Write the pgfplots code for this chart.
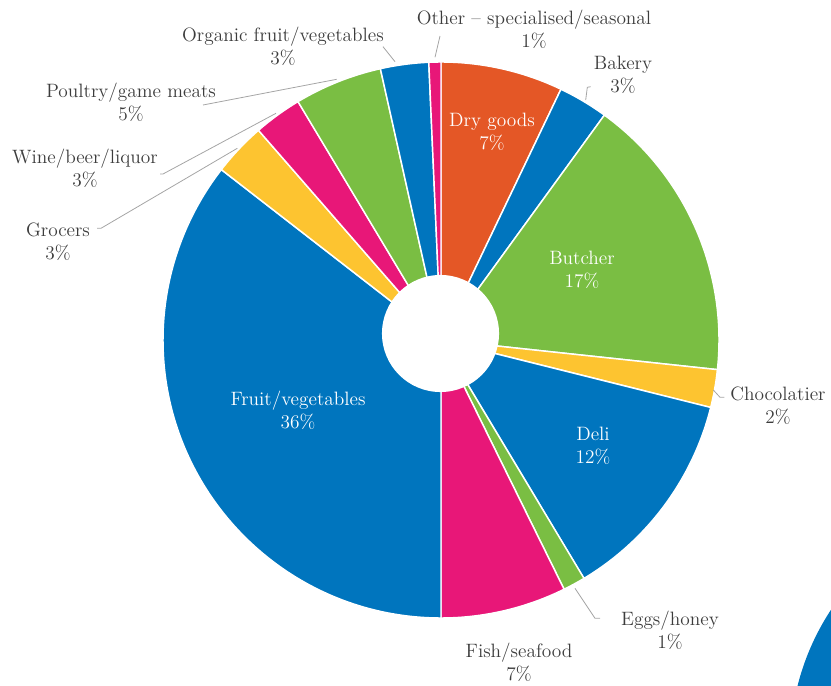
\documentclass[border=0pt]{standalone}
\usepackage{pgfplots}
\pgfplotsset{compat=1.18}
\usepackage{pgfplotstable}
\definecolor{cOrange}{RGB}{228,87,38}
\definecolor{cBlue}{RGB}{0,117,190}
\definecolor{cGreen}{RGB}{122,190,67}
\definecolor{cYellow}{RGB}{253,196,48}
\definecolor{cPink}{RGB}{232,23,120}
\definecolor{txt}{RGB}{60,60,60}
\definecolor{lead}{RGB}{165,165,165}

% share of each category (clockwise from 12 o'clock)
\pgfplotstableread[col sep=comma]{
value,col
7.1,cOrange
2.9,cBlue
16.7,cGreen
2.2,cYellow
12.5,cBlue
1.3,cGreen
7.3,cPink
35.5,cBlue
3.1,cYellow
2.8,cPink
5.1,cGreen
2.8,cBlue
0.7,cPink
}\slices

\tikzset{
  lab/.style={font=\fontsize{14.5}{17.25}\selectfont, text=txt, align=center, inner sep=0pt},
  wlab/.style={lab, text=white},
  ld/.style={draw=lead, line width=0.6pt},
}

\begin{document}
\begin{tikzpicture}
\begin{axis}[x=0.75pt,y=0.75pt,xmin=0,xmax=831,ymin=0,ymax=685,
  hide axis, clip=false]
% decorative circle bottom right
\fill[cBlue] (axis cs:1040,-62) circle[radius=187.5pt];
\def\cstart{0}
\pgfplotsforeachungrouped \i in {0,...,12}{
  \pgfplotstablegetelem{\i}{value}\of\slices \let\v\pgfplotsretval
  \pgfplotstablegetelem{\i}{col}\of\slices \let\cc\pgfplotsretval
  \pgfmathsetmacro\cend{\cstart+\v}
  \pgfmathsetmacro\aa{90-3.6*\cstart}
  \pgfmathsetmacro\bb{90-3.6*\cend}
  \edef\temp{\noexpand\filldraw[fill=\cc,draw=white,line width=1.1pt,line join=round]
    (axis cs:441,345) -- ++(\aa:208.5pt) arc[start angle=\aa,end angle=\bb,radius=208.5pt] -- cycle;}
  \temp
  \let\cstart\cend
}
% hole
\fill[white] (axis cs:440.5,351.5) circle[radius=43.9pt];

% leader lines
\draw[ld] (axis cs:585.7,585) -- (axis cs:587.3,597.7) -- (axis cs:590.7,598.3);
\draw[ld] (axis cs:713.3,295) -- (axis cs:720,287.7) -- (axis cs:724.3,287.7);
\draw[ld] (axis cs:575,96.7) -- (axis cs:595,66.7) -- (axis cs:600,66.7);
\draw[ld] (axis cs:97,456.7) -- (axis cs:101,456.7) -- (axis cs:237.3,536.7);
\draw[ld] (axis cs:160,511) -- (axis cs:163,511) -- (axis cs:276,571.7);
\draw[ld] (axis cs:203,580) -- (axis cs:336.7,605.7);
\draw[ld] (axis cs:383,638.3) -- (axis cs:395,623.3);
\draw[ld] (axis cs:440,649) -- (axis cs:435,627.7);

% labels
\node[lab] at (axis cs:534,655.5) {Other -- specialised/seasonal\\1\%};
\node[lab] at (axis cs:623,610) {Bakery\\3\%};
\node[wlab] at (axis cs:492,553.5) {Dry goods\\7\%};
\node[wlab] at (axis cs:582,415) {Butcher\\17\%};
\node[lab] at (axis cs:778,279.5) {Chocolatier\\2\%};
\node[wlab] at (axis cs:593,239.5) {Deli\\12\%};
\node[lab] at (axis cs:670,55) {Eggs/honey\\1\%};
\node[lab] at (axis cs:519,23) {Fish/seafood\\7\%};
\node[wlab] at (axis cs:298,275) {Fruit/vegetables\\36\%};
\node[lab] at (axis cs:58,443) {Grocers\\3\%};
\node[lab] at (axis cs:85,516.5) {Wine/beer/liquor\\3\%};
\node[lab] at (axis cs:131,582.5) {Poultry/game meats\\5\%};
\node[lab] at (axis cs:283,638.5) {Organic fruit/vegetables\\3\%};
\end{axis}
\pgfresetboundingbox
\useasboundingbox (0,0) rectangle (623.25pt,513.75pt);
\end{tikzpicture}
\end{document}
